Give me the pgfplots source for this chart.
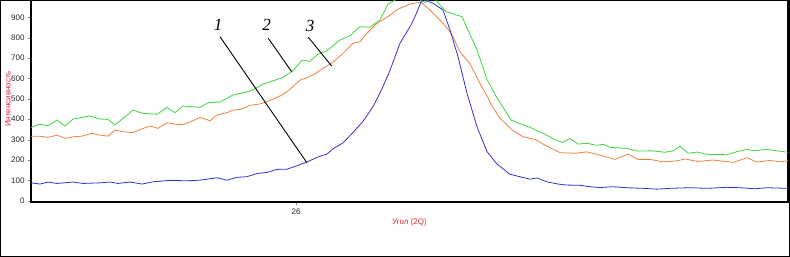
\documentclass[border=0pt]{standalone}
\usepackage{pgfplots}
\pgfplotsset{compat=1.18}
\usepackage{fontspec}
\setmainfont{Liberation Sans}
\newfontfamily\annfont{Liberation Serif}
\definecolor{cblue}{RGB}{50,50,205}
\definecolor{cgreen}{RGB}{60,215,60}
\definecolor{corange}{RGB}{240,130,60}
\definecolor{cred}{RGB}{225,40,60}
\begin{document}
\begin{tikzpicture}
\useasboundingbox (0,0) rectangle (790pt,257pt);
\draw[line width=1pt] (0.5pt,0.5pt) rectangle (789.5pt,256.5pt);
\begin{axis}[
  at={(31pt,55pt)}, anchor=south west,
  scale only axis, width=757pt, height=202pt,
  xmin=23.35, xmax=30.92, ymin=-6, ymax=985,
  xtick={26}, ytick={0,100,...,900},
  tick pos=left, tick align=outside, major tick length=3pt,
  axis line style={line width=1.2pt},
  /pgf/number format/assume math mode=true,
  ticklabel style={font=\fontsize{8}{9}\selectfont, text=black!85},
  xlabel={Угол (2Q)}, ylabel={Интенсивность},
  xlabel style={at={(axis description cs:0.5,-0.1)}, anchor=center, font=\fontsize{8}{9}\selectfont, text=cred},
  ylabel style={at={(axis description cs:-0.0305,0.51)}, anchor=center, font=\fontsize{8}{9}\selectfont, text=cred},
  every axis plot/.append style={line width=0.8pt, mark=none},
]
% curve 2 (green)
\addplot[cgreen] coordinates {
(23.35,360)(23.44,376)(23.52,367)(23.61,396)(23.69,367)(23.77,401)(23.94,416)(24.04,401)(24.12,399)(24.19,372)(24.27,404)(24.37,445)(24.47,429)(24.61,424)(24.71,458)(24.79,432)(24.87,465)(25.04,458)(25.12,481)(25.24,484)(25.37,519)(25.51,534)(25.57,543)(25.67,573)(25.77,588)(25.87,606)(25.97,638)(26.06,690)(26.14,684)(26.22,720)(26.31,736)(26.44,789)(26.54,810)(26.64,854)(26.74,851)(26.84,887)(26.92,965)(26.99,985)(27.09,1000)(27.19,1000)(27.29,972)(27.37,1000)(27.44,960)(27.50,928)(27.66,903)(27.81,740)(27.91,595)(28.01,505)(28.15,396)(28.34,360)(28.47,331)(28.62,293)(28.67,287)(28.74,306)(28.82,278)(28.91,282)(29.01,272)(29.07,277)(29.14,262)(29.31,257)(29.41,244)(29.57,245)(29.69,238)(29.77,245)(29.84,268)(29.92,233)(30.01,239)(30.11,228)(30.31,226)(30.41,241)(30.51,252)(30.59,245)(30.69,252)(30.81,245)(30.92,238)
};
% curve 3 (orange)
\addplot[corange] coordinates {
(23.35,317)(23.44,317)(23.52,311)(23.61,322)(23.69,306)(23.77,314)(23.86,317)(23.96,331)(24.04,322)(24.12,317)(24.19,347)(24.27,339)(24.37,334)(24.47,355)(24.54,367)(24.62,355)(24.71,383)(24.79,376)(24.87,373)(24.97,393)(25.04,409)(25.14,393)(25.21,421)(25.31,432)(25.37,445)(25.44,448)(25.54,468)(25.64,475)(25.71,486)(25.81,507)(25.87,522)(25.94,547)(26.04,592)(26.11,604)(26.19,622)(26.27,650)(26.37,680)(26.47,723)(26.57,773)(26.64,780)(26.71,822)(26.81,871)(26.92,903)(27.02,940)(27.14,965)(27.25,975)(27.34,936)(27.44,887)(27.49,860)(27.56,815)(27.64,731)(27.74,672)(27.84,576)(27.91,515)(27.96,465)(28.04,405)(28.16,348)(28.27,314)(28.39,301)(28.49,273)(28.64,236)(28.79,233)(28.91,240)(29.04,224)(29.19,203)(29.32,229)(29.42,203)(29.54,203)(29.67,191)(29.81,196)(29.89,205)(30.02,193)(30.17,200)(30.37,188)(30.51,211)(30.61,190)(30.74,198)(30.84,191)(30.92,196)
};
% curve 1 (blue)
\addplot[cblue] coordinates {
(23.35,88)(23.44,82)(23.52,92)(23.61,85)(23.77,92)(23.87,85)(24.04,88)(24.14,92)(24.22,85)(24.34,92)(24.46,82)(24.57,93)(24.74,100)(24.91,98)(25.04,101)(25.21,113)(25.31,101)(25.41,115)(25.51,118)(25.61,134)(25.71,139)(25.81,154)(25.91,155)(26.01,172)(26.11,190)(26.21,213)(26.31,229)(26.37,255)(26.47,284)(26.57,335)(26.67,390)(26.77,461)(26.87,560)(26.94,640)(27.04,773)(27.14,854)(27.19,903)(27.25,975)(27.27,988)(27.37,969)(27.47,936)(27.54,838)(27.62,707)(27.71,527)(27.81,363)(27.91,241)(28.01,180)(28.14,130)(28.24,118)(28.34,106)(28.41,112)(28.51,93)(28.62,82)(28.71,77)(28.84,76)(28.94,69)(29.04,65)(29.17,69)(29.31,64)(29.47,61)(29.61,57)(29.74,61)(29.94,64)(30.11,61)(30.31,66)(30.44,64)(30.59,59)(30.71,64)(30.92,61)
};
% annotations
\draw[line width=0.9pt] (axis cs:25.24,805) -- (axis cs:26.107,188);
\draw[line width=0.9pt] (axis cs:25.723,797) -- (axis cs:25.957,633);
\draw[line width=0.9pt] (axis cs:26.123,802) -- (axis cs:26.357,661);
\node[font=\annfont\itshape\fontsize{17}{18}\selectfont] at (axis cs:25.22,862) {1};
\node[font=\annfont\itshape\fontsize{17}{18}\selectfont] at (axis cs:25.707,862) {2};
\node[font=\annfont\itshape\fontsize{17}{18}\selectfont] at (axis cs:26.14,858) {3};
\end{axis}
\end{tikzpicture}
\end{document}
